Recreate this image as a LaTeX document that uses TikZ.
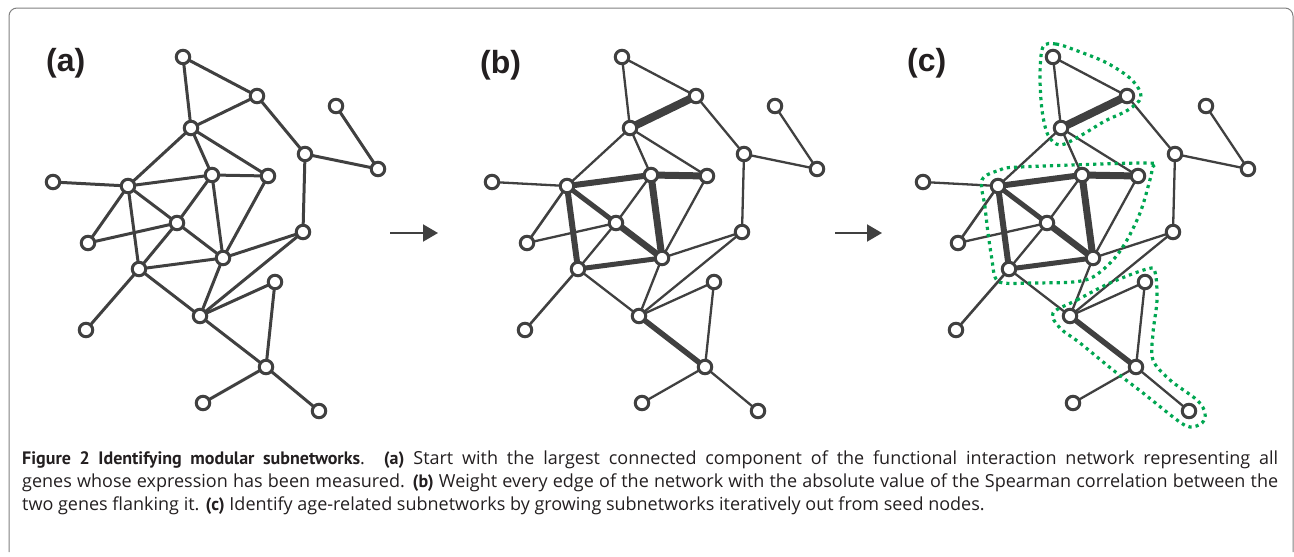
\documentclass[tikz,border=0pt]{standalone}
\usepackage{fontspec}
\setmainfont{Open Sans}[BoldFont={PT Sans Bold}]
\newfontfamily\labelfont{Liberation Sans}
\usetikzlibrary{arrows.meta,backgrounds}
\definecolor{netgray}{HTML}{404040}
\definecolor{hullgreen}{HTML}{00A651}
\definecolor{capblack}{HTML}{231F20}

\begin{document}
\begin{tikzpicture}
  [x=1pt,y=-1pt,
   n/.style={circle,
             draw=netgray,
             fill=white,
             line width=3pt,
             inner sep=0pt,
             minimum size=13.5pt},
   hull/.style={draw=hullgreen,
                line width=3.2pt,
                dash pattern=on 3.2pt off 4pt},
   lbl/.style={font=\labelfont\bfseries\fontsize{32}{32}\selectfont,
               text=capblack,
               inner sep=0pt,
               anchor=west},
   flow/.style={draw=netgray,
                line width=2pt,
                -{Triangle[length=15pt,width=17pt]}}]
  \useasboundingbox (0,0) rectangle (1294,557);
  \draw[gray,line width=1pt,rounded corners=8pt]
    (9,552) -- (9,8) -- (1293,8) -- (1293,552);

  % the same network in the three panels
  \foreach \p/\dx in {a/0,b/439,c/870}
    \foreach \i/\x/\y in {1/183/57, 2/257/96, 3/191/128, 4/336/106,
                          5/305/154, 6/378/169, 7/53/182, 8/128/186,
                          9/212/175, 10/268/176, 11/177/223, 12/88/243,
                          13/303/232, 14/223/258, 15/139/269, 16/275/282,
                          17/200/316, 18/86/330, 19/266/367, 20/203/403,
                          21/319/411}
      \node[n] (\p\i) at (\x+\dx,\y) {};

  \begin{scope}[on background layer]
    \foreach \u/\v in {1/2,1/3,2/3,2/5,4/6,5/6,5/13,3/8,3/9,3/10,7/8,
                       8/9,9/10,8/12,8/11,8/15,9/11,9/14,10/14,11/12,
                       11/14,11/15,13/14,13/17,14/15,14/17,15/17,15/18,
                       16/17,16/19,17/19,19/20,19/21}
      \draw[netgray,line width=3pt] (a\u.center) -- (a\v.center);
    % weighted edges
    \foreach \p in {b,c}
      \foreach \u/\v/\w in {1/2/2.3,1/3/2.3,2/3/8,2/5/2.3,4/6/2.3,
                            5/6/2.3,5/13/2.3,3/8/2.3,3/9/2.3,3/10/2.3,
                            7/8/2.3,8/9/6,9/10/7,8/12/2.6,8/11/5,
                            8/15/6,9/11/2.3,9/14/7,10/14/2.3,11/12/2.3,
                            11/14/6.5,11/15/2.3,13/14/2.3,13/17/2.3,
                            14/15/5,14/17/2.3,15/17/2.3,15/18/2.6,
                            16/17/2.3,16/19/2.3,17/19/5.5,19/20/2.3,19/21/2.3}
        \draw[netgray,line width=\w pt] (\p\u.center) -- (\p\v.center);
  \end{scope}

  % subnetworks grown from seeds
  \draw[hull] plot[smooth cycle,tension=0.55] coordinates
    {(1043,47) (1056,44) (1075,50) (1107,63) (1132,80) (1141,97)
     (1128,110) (1105,121) (1080,136) (1060,145) (1048,135) (1042,110)
     (1040,75)};
  \draw[hull] plot[smooth cycle,tension=0.55] coordinates
    {(982,180) (1000,170) (1020,167) (1145,163) (1152,168) (1148,187)
     (1140,213) (1127,240) (1113,260) (1093,277) (1073,282) (1033,283)
     (1003,283) (995,277) (992,260) (988,233) (985,207)};
  \draw[hull] plot[smooth cycle,tension=0.55] coordinates
    {(1053,313) (1077,300) (1110,283) (1147,269) (1155,272) (1157,300)
     (1153,333) (1153,360) (1170,380) (1197,400) (1205,413) (1202,423)
     (1190,427) (1177,420) (1143,393) (1113,370) (1080,343) (1060,328)};

  \node[lbl] (la) at (46,63) {(a)};
  \node[lbl] (lb) at (480,65) {(b)};
  \node[lbl] (lc) at (907,63) {(c)};

  \coordinate (s1) at (390,233);
  \coordinate (t1) at (438,233);
  \coordinate (s2) at (835,233);
  \coordinate (t2) at (882,233);
  \draw[flow] (s1) -- (t1);
  \draw[flow] (s2) -- (t2);

  \node[anchor=north west,inner sep=0pt,text width=1256pt,align=justify,
        text=capblack,font=\fontsize{18}{23}\selectfont] (cap) at (22,451)
    {\textbf{Figure 2 Identifying modular subnetworks}. \textbf{(a)} Start
     with the largest connected component of the functional interaction
     network representing all\linebreak genes whose expression has been
     measured. \textbf{(b)} Weight every edge of the network with the
     absolute value of the Spearman correlation between the\linebreak two
     genes flanking it. \textbf{(c)} Identify age-related subnetworks by
     growing subnetworks iteratively out from seed nodes.};
\end{tikzpicture}
\end{document}
